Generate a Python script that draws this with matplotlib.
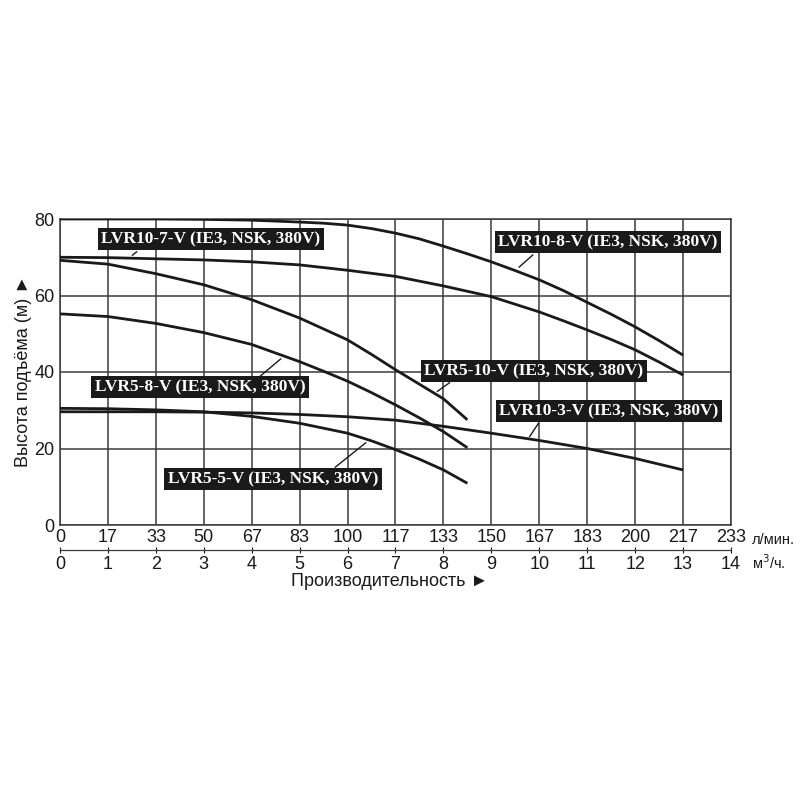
import matplotlib.pyplot as plt

plt.rcParams['font.family'] = ['Liberation Sans', 'DejaVu Sans']

# head curves: flow in m3/h, head in m
x_10_8 = [0, 1, 2, 3, 4, 5, 5.5, 6, 6.5, 7, 7.5, 8, 8.5, 9, 9.5, 10, 10.5, 11, 11.5, 12, 12.5, 13]
h_10_8 = [80, 80, 80, 79.9, 79.7, 79.2, 78.9, 78.4, 77.5, 76.3, 74.8, 72.9, 70.9, 68.8, 66.5,
          64.1, 61.3, 58.2, 55.1, 51.8, 48.2, 44.4]

x_10_7 = [0, 1, 2, 3, 4, 5, 6, 7, 8, 9, 10, 10.5, 11, 11.5, 12, 12.5, 13]
h_10_7 = [70.0, 69.9, 69.6, 69.3, 68.8, 68.0, 66.6, 65.0, 62.5, 59.7, 55.7, 53.4, 51.0, 48.5,
          45.8, 42.6, 39.2]

x_5_10 = [0, 1, 2, 3, 4, 5, 6, 6.5, 7, 7.5, 8, 8.5]
h_5_10 = [69.2, 68.2, 65.7, 62.8, 58.9, 54.1, 48.4, 44.6, 40.6, 36.8, 33.0, 27.5]

x_5_8 = [0, 1, 2, 3, 4, 5, 5.5, 6, 6.5, 7, 7.5, 8, 8.5]
h_5_8 = [55.2, 54.5, 52.7, 50.3, 47.2, 42.7, 40.2, 37.6, 34.6, 31.4, 28.0, 24.4, 20.2]

x_10_3 = [0, 1, 2, 3, 4, 5, 6, 7, 8, 9, 10, 11, 12, 13]
h_10_3 = [29.6, 29.6, 29.6, 29.5, 29.3, 28.9, 28.3, 27.4, 25.8, 24.0, 22.1, 20.0, 17.4, 14.4]

x_5_5 = [0, 1, 2, 3, 4, 5, 6, 6.5, 7, 7.5, 8, 8.5]
h_5_5 = [30.5, 30.4, 30.1, 29.6, 28.4, 26.6, 24.0, 22.0, 19.7, 17.2, 14.4, 10.9]

lpm_labels = ['0', '17', '33', '50', '67', '83', '100', '117', '133', '150',
              '167', '183', '200', '217', '233']
m3h_ticks = list(range(15))

fig = plt.figure(figsize=(8, 8), dpi=100)
ax = fig.add_axes([0.075, 1 - 525 / 800, (731 - 60) / 800, (525 - 219) / 800])

for xs, hs in [(x_10_8, h_10_8), (x_10_7, h_10_7), (x_5_10, h_5_10),
               (x_5_8, h_5_8), (x_10_3, h_10_3), (x_5_5, h_5_5)]:
    ax.plot(xs, hs, color='#1a1a1a', lw=2.0, solid_capstyle='butt', zorder=3)

ax.set_xlim(0, 14)
ax.set_ylim(0, 80)
ax.set_xticks(m3h_ticks)
ax.set_xticklabels(lpm_labels)
ax.set_yticks([0, 20, 40, 60, 80])
ax.grid(True, color='#3a3a3a', lw=1.1)
ax.tick_params(length=0, labelsize=13, colors='#1a1a1a', pad=3)
ax.tick_params(axis='y', pad=4)
for s in ax.spines.values():
    s.set_color('#3a3a3a')
    s.set_linewidth(1.1)

# second flow axis (m3/h)
sec = ax.secondary_xaxis(-25 / 306)
sec.set_xticks(m3h_ticks)
sec.tick_params(direction='inout', length=5, width=0.8, labelsize=13,
                colors='#1a1a1a', pad=2)
sec.spines['bottom'].set_linewidth(0.9)
sec.spines['bottom'].set_color('#3a3a3a')

fig.text(752 / 800, 1 - 540 / 800, 'л/мин.', fontsize=10.5, va='center', ha='left', color='#1a1a1a')
fig.text(752 / 800, 1 - 563 / 800, 'м$^3$/ч.', fontsize=10.5, va='center', ha='left', color='#1a1a1a')

fig.text(390 / 800, 1 - 582 / 800, 'Производительность ►', fontsize=13,
         ha='center', va='center', color='#1a1a1a',
         family=['Liberation Sans', 'DejaVu Sans'])
fig.text(24 / 800, 1 - 371 / 800, 'Высота подъёма (м) ►', fontsize=13,
         ha='center', va='center', rotation=90, color='#1a1a1a',
         family=['Liberation Sans', 'DejaVu Sans'])

# curve labels: (text, box center px, leader start px, leader end px)
labels = [
    ('LVR10-7-V (IE3, NSK, 380V)', (211, 239), (130, 257), (139, 250)),
    ('LVR10-8-V (IE3, NSK, 380V)', (608, 242), (517, 269), (535, 253)),
    ('LVR5-10-V (IE3, NSK, 380V)', (534, 371), (435, 393), (452, 381)),
    ('LVR5-8-V (IE3, NSK, 380V)', (200, 387), (283, 357), (258, 378)),
    ('LVR10-3-V (IE3, NSK, 380V)', (609, 411), (528, 439), (540, 421)),
    ('LVR5-5-V (IE3, NSK, 380V)', (273, 479), (368, 441), (333, 469)),
]
for txt, (cx, cy), p0, p1 in labels:
    ax.annotate('', xy=((p0[0] - 60) / 47.93, (525 - p0[1]) / 3.825),
                xytext=((p1[0] - 60) / 47.93, (525 - p1[1]) / 3.825),
                arrowprops=dict(arrowstyle='-', color='#1a1a1a', lw=1.0),
                zorder=4)
    ax.text((cx - 60) / 47.93, (525 - cy) / 3.825, txt, fontsize=12.5,
            family='Liberation Serif', weight='bold', color='white',
            ha='center', va='center', zorder=5,
            bbox=dict(boxstyle='square,pad=0.2', fc='#1a1a1a', ec='none'))

fig.savefig('out.png', dpi=100, facecolor='white')
